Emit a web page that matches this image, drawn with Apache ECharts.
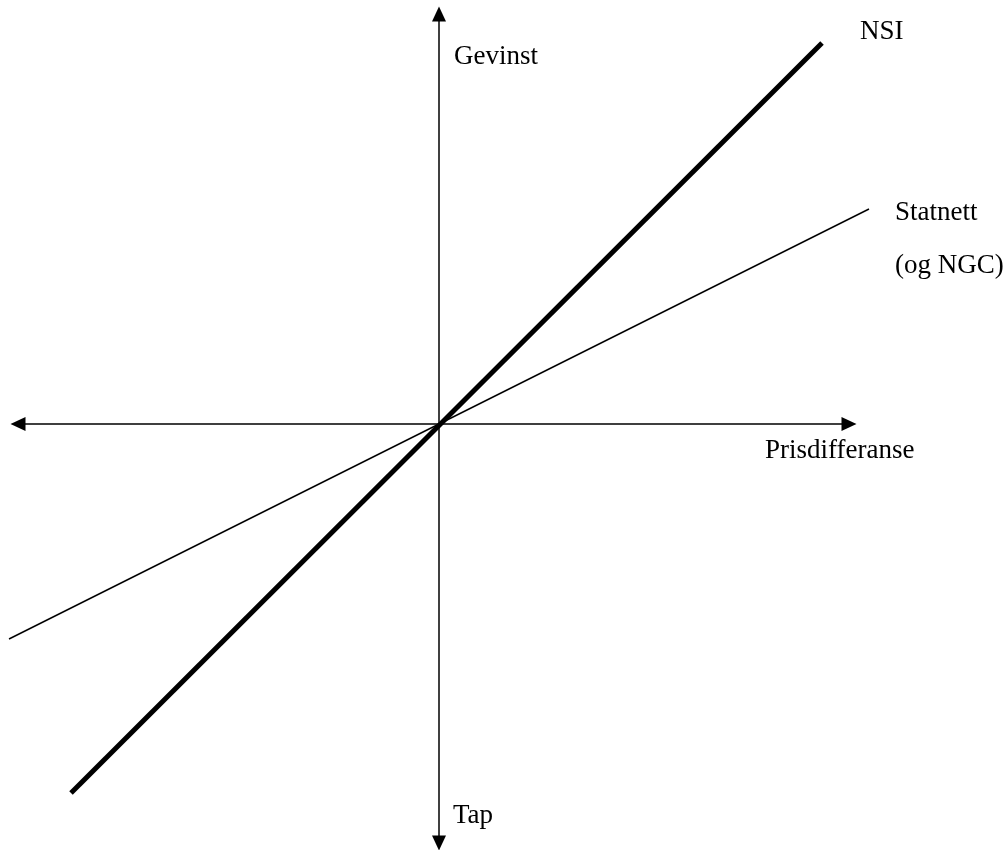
<!DOCTYPE html>
<html>
<head>
<meta charset="utf-8">
<title>NSI / Statnett</title>
<script src="https://cdn.jsdelivr.net/npm/echarts@6/dist/echarts.min.js"></script>
<style>
  html, body { margin: 0; padding: 0; background: #fff; }
  #chart { width: 1008px; height: 850px; }
</style>
</head>
<body>
<div id="chart"></div>
<script>
// gain vs price difference, origin = where the axes cross (units ~ px)
const nsiX = [-368, 383];
const nsiY = [-369, 381];
const statnettX = [-430, 430];
const statnettY = [-215, 215];

// axis extents (arrows) and full-canvas extents (lines)
const axisXRange = [-421, 410];
const axisYRange = [-419, 410];
const plotXRange = [-439, 569];
const plotYRange = [-426, 424];

const serif = '"Liberation Serif", "Times New Roman", serif';
const textFont = '27px ' + serif;

const chart = echarts.init(document.getElementById('chart'));

const arrowAxis = {
    type: 'value',
    gridIndex: 0,
    axisLine: {
        onZero: true,
        symbol: ['triangle', 'triangle'],
        symbolSize: [14, 15],
        lineStyle: { color: '#000', width: 1.5 }
    },
    axisTick: { show: false },
    axisLabel: { show: false },
    splitLine: { show: false }
};

const hiddenAxis = {
    type: 'value',
    gridIndex: 1,
    show: false,
    splitLine: { show: false }
};

const label = (text, left, top) => ({
    type: 'text', left, top,
    style: { text, font: textFont, fill: '#000' }
});

chart.setOption({
    animation: false,
    backgroundColor: '#fff',
    grid: [
        { left: 18, right: 159, top: 14, bottom: 7 },
        { left: 0, right: 0, top: 0, bottom: 0 }
    ],
    xAxis: [
        Object.assign({}, arrowAxis, { min: axisXRange[0], max: axisXRange[1] }),
        Object.assign({}, hiddenAxis, { min: plotXRange[0], max: plotXRange[1] })
    ],
    yAxis: [
        Object.assign({}, arrowAxis, { min: axisYRange[0], max: axisYRange[1] }),
        Object.assign({}, hiddenAxis, { min: plotYRange[0], max: plotYRange[1] })
    ],
    series: [
        {
            name: 'NSI',
            type: 'line',
            xAxisIndex: 1,
            yAxisIndex: 1,
            symbol: 'none',
            lineStyle: { color: '#000', width: 5 },
            data: nsiX.map((x, i) => [x, nsiY[i]])
        },
        {
            name: 'Statnett',
            type: 'line',
            xAxisIndex: 1,
            yAxisIndex: 1,
            symbol: 'none',
            lineStyle: { color: '#000', width: 1.4 },
            data: statnettX.map((x, i) => [x, statnettY[i]])
        }
    ],
    graphic: [
        label('Gevinst', 454, 43),
        label('Tap', 453, 802),
        label('Prisdifferanse', 765, 437),
        label('NSI', 860, 18),
        label('Statnett', 895, 199),
        label('(og NGC)', 895, 252)
    ]
});
</script>
</body>
</html>
